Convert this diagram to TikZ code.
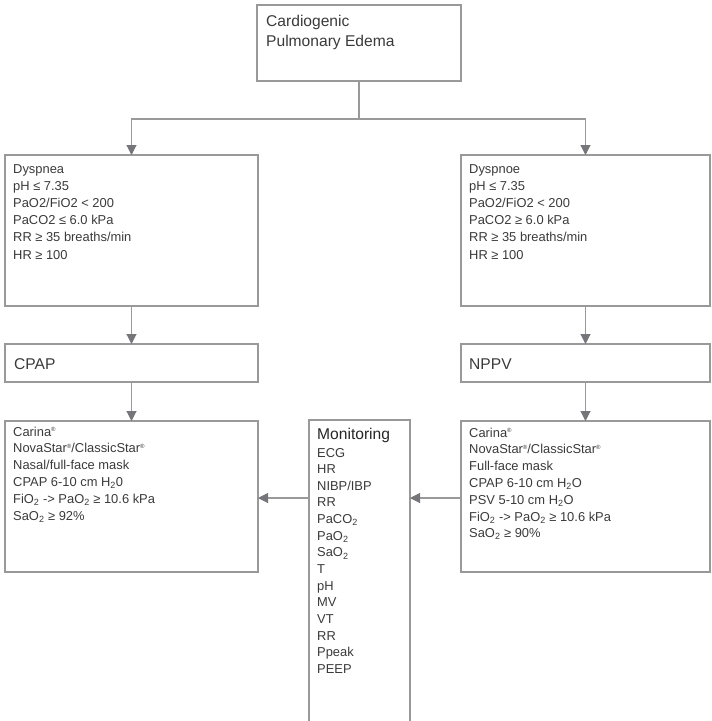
\documentclass[tikz,border=0pt]{standalone}
\usepackage{fontspec}
\setmainfont{Liberation Sans}
\usetikzlibrary{arrows.meta}
\definecolor{linegray}{HTML}{999999}
\definecolor{tipgray}{HTML}{75757A}
\definecolor{txtgray}{HTML}{3A3A3A}
\newcommand{\mysub}[1]{\textsubscript{#1}}
\newcommand{\myreg}{\raisebox{0.6ex}{\fontsize{6}{6}\selectfont ®}}
\newcommand{\upfont}{\fontsize{12.9}{17.2}\selectfont}
\newcommand{\lowfont}{\fontsize{12.9}{16.8}\selectfont}
\newcommand{\headfont}{\fontsize{15.6}{20}\selectfont}
\tikzset{
  box/.style={draw=linegray, line width=1.1pt, inner sep=0pt, outer sep=0pt, anchor=north west},
  txt/.style={anchor=base west, inner sep=0pt, text=txtgray},
  conn/.style={draw=linegray, line width=1.1pt},
  arr/.style={conn, -{Triangle[width=10pt,length=10pt,color=tipgray]}}
}
\begin{document}
\begin{tikzpicture}[x=1pt,y=-1pt]
\useasboundingbox (0,0) rectangle (712,721);
% boxes
\node[box, minimum width=204pt, minimum height=76pt] (T) at (257,5) {};
\node[box, minimum width=253pt, minimum height=151pt] (L1) at (5,155) {};
\node[box, minimum width=249pt, minimum height=151pt] (R1) at (461,155) {};
\node[box, minimum width=253pt, minimum height=38pt] (L2) at (5,344) {};
\node[box, minimum width=249pt, minimum height=38pt] (R2) at (461,344) {};
\node[box, minimum width=253pt, minimum height=151pt] (L3) at (5,421) {};
\node[box, minimum width=249pt, minimum height=151pt] (R3) at (461,421) {};
\node[box, minimum width=101pt, minimum height=303pt] (M) at (309,420) {};
% texts
\node[txt, font=\headfont] (tT) at (266,26) {\begin{tabular}[t]{@{}l@{}}Cardiogenic\\Pulmonary Edema\end{tabular}};
\node[txt, font=\upfont] (tL1) at (13,173) {\begin{tabular}[t]{@{}l@{}}Dyspnea\\pH ≤ 7.35\\PaO2/FiO2 < 200\\PaCO2 ≤ 6.0 kPa\\RR ≥ 35 breaths/min\\HR ≥ 100\end{tabular}};
\node[txt, font=\upfont] (tR1) at (469,173) {\begin{tabular}[t]{@{}l@{}}Dyspnoe\\pH ≤ 7.35\\PaO2/FiO2 < 200\\PaCO2 ≥ 6.0 kPa\\RR ≥ 35 breaths/min\\HR ≥ 100\end{tabular}};
\node[txt, font=\headfont] (tL2) at (14,369) {CPAP};
\node[txt, font=\headfont] (tR2) at (469,369) {NPPV};
\node[txt, font=\lowfont] (tL3) at (13,436) {\begin{tabular}[t]{@{}l@{}}Carina\myreg\\NovaStar\myreg/ClassicStar\myreg\\Nasal/full-face mask\\CPAP 6-10 cm H\mysub{2}0\\FiO\mysub{2} -> PaO\mysub{2} ≥ 10.6 kPa\\SaO\mysub{2} ≥ 92\%\end{tabular}};
\node[txt, font=\lowfont] (tR3) at (469,437) {\begin{tabular}[t]{@{}l@{}}Carina\myreg\\NovaStar\myreg/ClassicStar\myreg\\Full-face mask\\CPAP 6-10 cm H\mysub{2}O\\PSV 5-10 cm H\mysub{2}O\\FiO\mysub{2} -> PaO\mysub{2} ≥ 10.6 kPa\\SaO\mysub{2} ≥ 90\%\end{tabular}};
\node[txt, font=\headfont, text=black!85] (tMh) at (317,439) {Monitoring};
\node[txt, font=\fontsize{12.9}{16.65}\selectfont] (tM) at (317,457) {\begin{tabular}[t]{@{}l@{}}ECG\\HR\\NIBP/IBP\\RR\\PaCO\mysub{2}\\PaO\mysub{2}\\SaO\mysub{2}\\T\\pH\\MV\\VT\\RR\\Ppeak\\PEEP\end{tabular}};
% connectors
\coordinate (jn) at (T.south |- 0,119);
\coordinate (ay) at (0,498);
\draw[conn] (T.south) -- (jn);
\draw[arr] (jn) -| (L1.north);
\draw[arr] (jn) -| (R1.north);
\draw[arr] (L1.south) -- (L2.north);
\draw[arr] (R1.south) -- (R2.north);
\draw[arr] (L2.south) -- (L3.north);
\draw[arr] (R2.south) -- (R3.north);
\draw[arr] (M.west |- ay) -- (L3.east |- ay);
\draw[arr] (R3.west |- ay) -- (M.east |- ay);
\end{tikzpicture}
\end{document}
